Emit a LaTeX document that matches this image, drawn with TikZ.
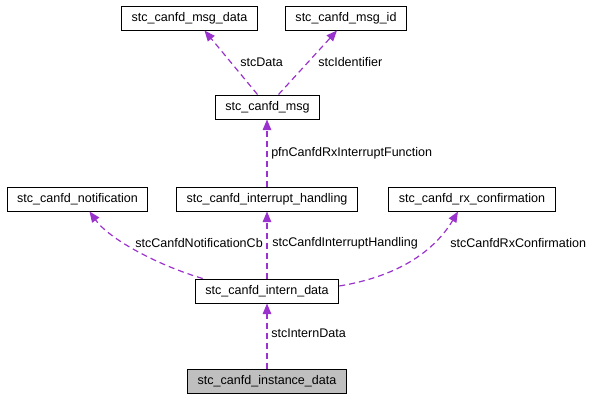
\documentclass[tikz,border=0pt]{standalone}
\usepackage{fontspec}
\setsansfont{Liberation Sans}
\usepackage{tikz}
\usetikzlibrary{arrows.meta,calc}
\definecolor{edgepurple}{RGB}{154,50,205}
\definecolor{boxgray}{RGB}{191,191,191}

\begin{document}
\begin{tikzpicture}[
    x=0.75pt, y=-0.75pt,
    font=\sffamily\fontsize{9.4}{11}\selectfont,
    structbox/.style={
        rectangle,
        draw=black,
        line width=0.75pt,
        fill=white,
        inner xsep=7.6pt,
        inner ysep=0pt,
        minimum height=18pt,
        anchor=center
    },
    usage/.style={
        draw=edgepurple,
        line width=0.9pt,
        dash pattern=on 4.5pt off 3pt,
        -{Triangle[length=8pt,width=6.5pt,fill=edgepurple]}
    },
    lbl/.style={
        inner sep=0pt,
        anchor=west
    }
]
\useasboundingbox (0,0) rectangle (593,400);

% Top row
\node[structbox] (msgdata) at (189.5,18) {stc\_canfd\_msg\_data};
\node[structbox] (msgid) at (346,18) {stc\_canfd\_msg\_id};
\node[structbox] (msg) at (267.5,107) {stc\_canfd\_msg};

% Middle row
\node[structbox] (notification) at (77.5,199) {stc\_canfd\_notification};
\node[structbox] (inthandling) at (267,199) {stc\_canfd\_interrupt\_handling};
\node[structbox] (rxconf) at (472,199) {stc\_canfd\_rx\_confirmation};

% Bottom
\node[structbox] (interndata) at (267,291) {stc\_canfd\_intern\_data};
\node[structbox, fill=boxgray] (instancedata) at (267,381) {stc\_canfd\_instance\_data};

% Usage edges
\draw[usage] ($(msg.north)+(-10,0)$) -- ($(msgdata.south)+(15,0)$);
\draw[usage] ($(msg.north)+(11,0)$) -- ($(msgid.south)+(-9,0)$);
\draw[usage] (inthandling.north) -- (inthandling.north |- msg.south);
\draw[usage] ($(interndata.north west)+(8,0)$) .. controls (160,266) and (110,240) .. ($(notification.south)+(12,0)$);
\draw[usage] (interndata.north) -- (inthandling.south);
\draw[usage] ($(interndata.east)+(0,-5)$) .. controls (400,276) and (435,250) .. ($(rxconf.south)+(-14,0)$);
\draw[usage] (instancedata.north) -- (interndata.south);

% Edge labels
\node[lbl] (lbldata) at (240,62) {stcData};
\node[lbl] (lblid) at (318,62) {stcIdentifier};
\node[lbl] (lblfn) at (271,153) {pfnCanfdRxInterruptFunction};
\node[lbl] (lblnotif) at (135,243) {stcCanfdNotificationCb};
\node[lbl] (lblhandling) at (272,243) {stcCanfdInterruptHandling};
\node[lbl] (lblrx) at (450,243) {stcCanfdRxConfirmation};
\node[lbl] (lblintern) at (271,333) {stcInternData};

\end{tikzpicture}
\end{document}
